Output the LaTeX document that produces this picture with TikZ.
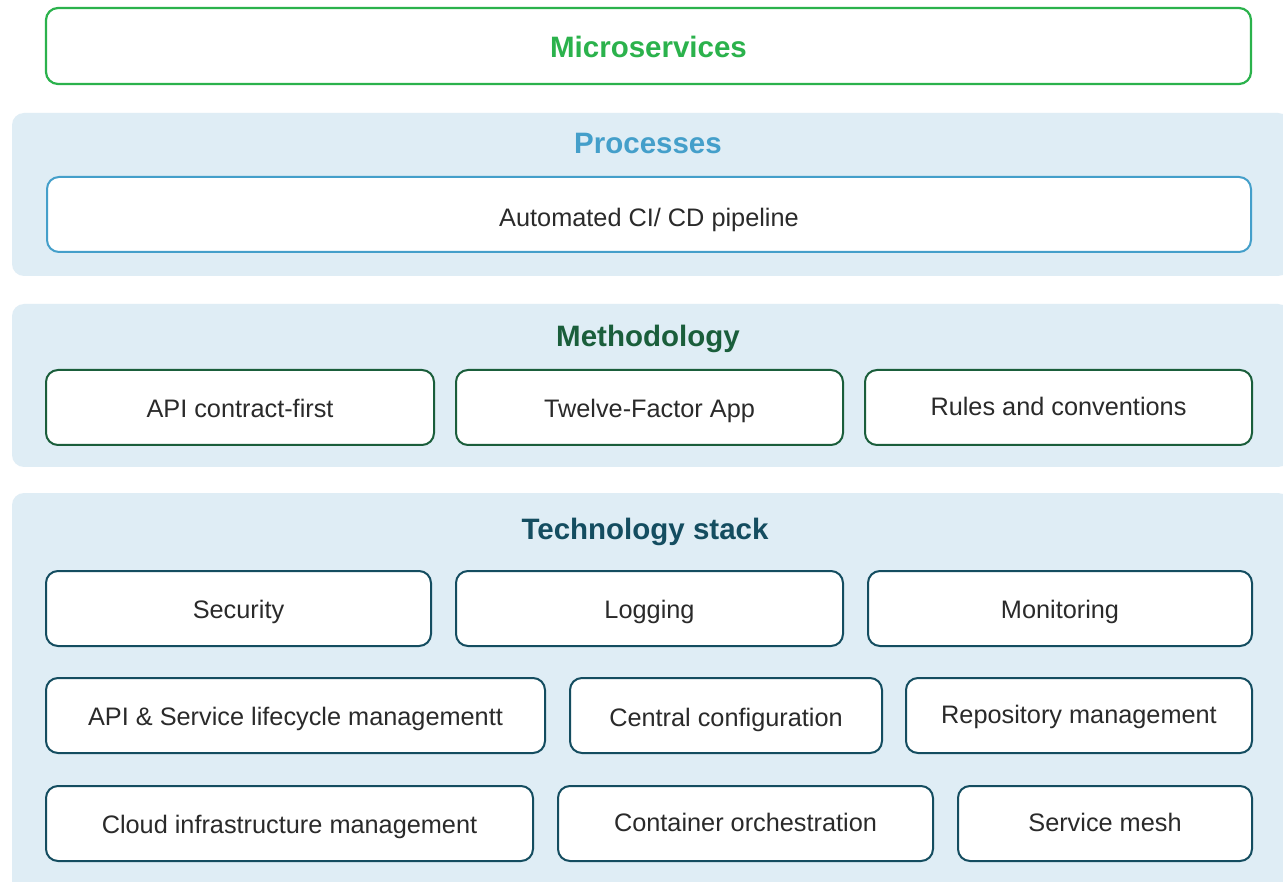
\documentclass[tikz,border=0pt]{standalone}
\usepackage{fontspec}
\setmainfont{Liberation Sans}
\definecolor{msgreen}{HTML}{2BB24C}
\definecolor{procblue}{HTML}{449FCA}
\definecolor{methgreen}{HTML}{1A5E3B}
\definecolor{techblue}{HTML}{144D60}
\definecolor{panelfill}{HTML}{DFEDF5}
\definecolor{bodytext}{HTML}{2A2A2A}
\tikzset{
  panel/.style={fill=panelfill, rounded corners=12pt},
  itembox/.style={draw=#1, line width=2pt, fill=white, rounded corners=12pt,
    minimum height=75pt, inner sep=0pt},
  itemtext/.style={inner sep=0pt, text=bodytext,
    font=\fontsize{25.3}{30}\selectfont, text height=18.1pt, text depth=0pt},
  ptitle/.style={text=#1, font=\fontsize{29.5}{35}\selectfont\bfseries, inner sep=0pt,
    text height=21.1pt, text depth=0pt},
}
\begin{document}
\begin{tikzpicture}[x=1pt,y=-1pt]
\useasboundingbox (0,0) rectangle (1283,882);
\fill[white] (0,0) rectangle (1283,882);
% Microservices
\node[itembox=msgreen, line width=2.2pt, minimum width=1205pt, minimum height=76pt] (msbox) at (648.5,46) {};
\node[ptitle=msgreen] (ms) at (648.5,47) {Microservices};
% Processes
\fill[panel] (12,113) rectangle (1290,276);
\node[ptitle=procblue] (proc) at (648,143) {Processes};
\node[itembox=procblue, minimum width=1204pt] (cicd) at (649,214.5) {};
\node[itemtext] (cicdt) at (649,217) {Automated CI/ CD pipeline};
% Methodology
\fill[panel] (12,304) rectangle (1290,467);
\node[ptitle=methgreen] (meth) at (648,336) {Methodology};
\node[itembox=methgreen, minimum width=388pt] (api) at (240,407.5) {};
\node[itembox=methgreen, minimum width=387pt] (twelve) at (649.5,407.5) {};
\node[itembox=methgreen, minimum width=387pt] (rules) at (1058.5,407.5) {};
\node[itemtext] (apit) at (240,408.5) {API contract-first};
\node[itemtext] (twelvet) at (649.5,408.5) {Twelve-Factor App};
\node[itemtext] (rulest) at (1058.5,406.5) {Rules and conventions};
% Technology stack
\fill[panel] (12,493) rectangle (1290,900);
\node[ptitle=techblue] (tech) at (645,529) {Technology stack};
\node[itembox=techblue, minimum width=385pt] (sec) at (238.5,608.5) {};
\node[itembox=techblue, minimum width=387pt] (log) at (649.5,608.5) {};
\node[itembox=techblue, minimum width=384pt] (mon) at (1060,608.5) {};
\node[itembox=techblue, minimum width=499pt] (lcm) at (295.5,715.5) {};
\node[itembox=techblue, minimum width=312pt] (conf) at (726,715.5) {};
\node[itembox=techblue, minimum width=346pt] (repo) at (1079,715.5) {};
\node[itembox=techblue, minimum width=487pt] (cloud) at (289.5,823.5) {};
\node[itembox=techblue, minimum width=375pt] (cont) at (745.5,823.5) {};
\node[itembox=techblue, minimum width=294pt] (mesh) at (1105,823.5) {};
\node[itemtext] (sect) at (238.5,609.5) {Security};
\node[itemtext] (logt) at (649.5,609.5) {Logging};
\node[itemtext] (mont) at (1060,609.5) {Monitoring};
\node[itemtext] (lcmt) at (295.5,716.5) {API \& Service lifecycle managementt};
\node[itemtext] (conft) at (726,717) {Central configuration};
\node[itemtext] (repot) at (1079,714) {Repository management};
\node[itemtext] (cloudt) at (289.5,824.5) {Cloud infrastructure management};
\node[itemtext] (contt) at (745.5,822) {Container orchestration};
\node[itemtext] (mesht) at (1105,822) {Service mesh};
\end{tikzpicture}
\end{document}
